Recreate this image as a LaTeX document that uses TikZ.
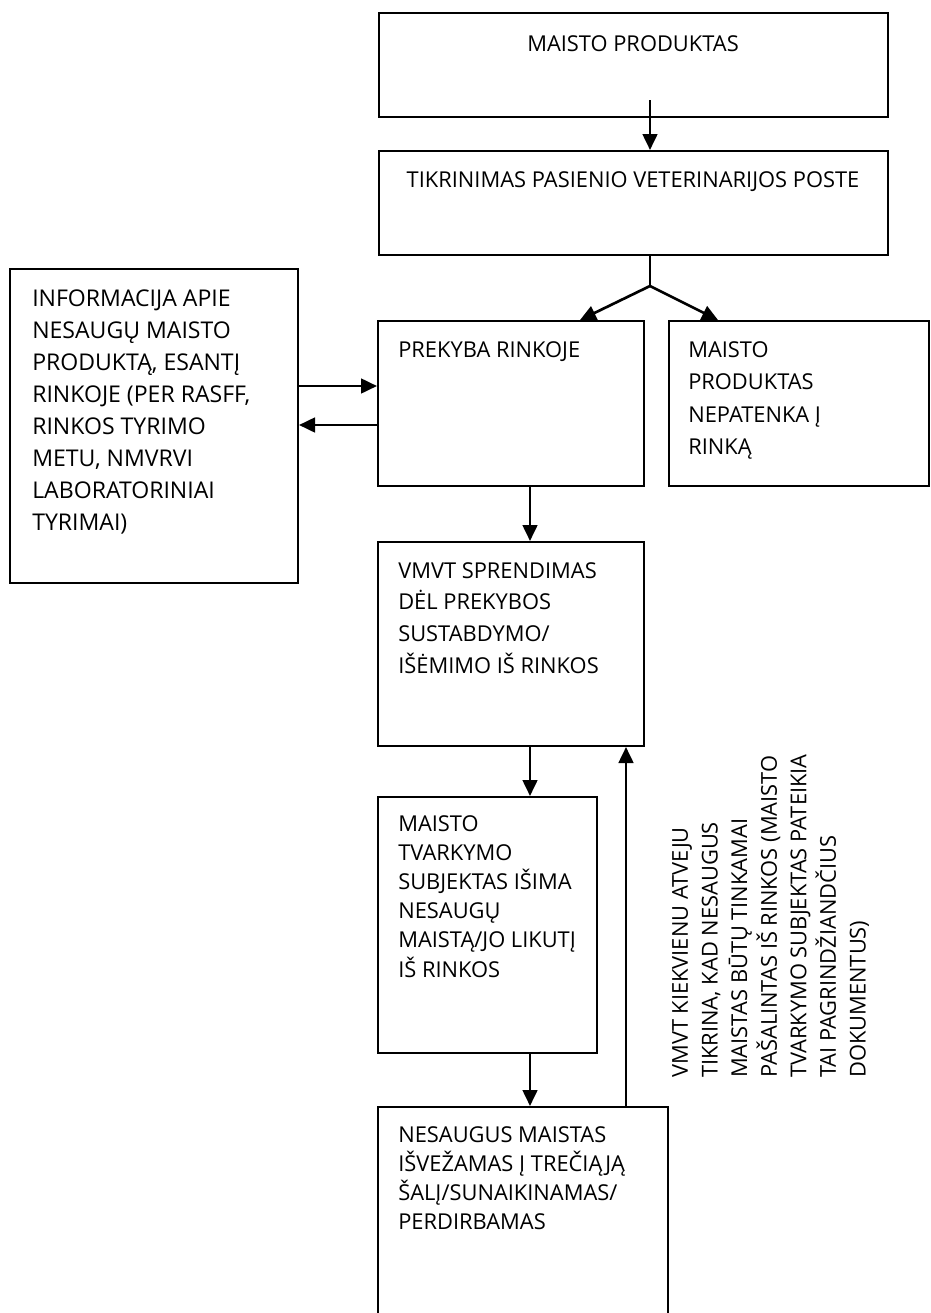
\documentclass[tikz,border=0pt]{standalone}
\usepackage{fontspec}
\setmainfont{Open Sans}
\usetikzlibrary{arrows.meta,fit}
\begin{document}
\begin{tikzpicture}[x=0.75pt,y=-0.75pt,
  box/.style={draw, line width=1.5pt, inner sep=0pt},
  arr/.style={line width=2pt, -{Triangle[length=12pt,width=11pt]}},
  txt/.style={inner sep=0pt, align=left, anchor=north west},
]
\useasboundingbox (0,0) rectangle (931,1313);
\clip (0,0) rectangle (931,1313);
% boxes
\node[box, fit={(379,13) (888,117)}] (b1) {};
\node[box, fit={(379,151) (888,255)}] (b2) {};
\node[box, fit={(10,269) (298,583)}] (bl) {};
\node[box, fit={(378,321) (644,486)}] (bp) {};
\node[box, fit={(669,321) (929,486)}] (bn) {};
\node[box, fit={(378,542) (644,746)}] (bv) {};
\node[box, fit={(378,797) (597,1053)}] (bt) {};
\node[box, fit={(378,1107) (668,1340)}] (bs) {};
% texts
\node[txt, anchor=north, font=\fontsize{16.4}{24}\selectfont] (t1) at (633,35) {MAISTO PRODUKTAS};
\node[txt, anchor=north, font=\fontsize{16.4}{24}\selectfont] (t2) at (633,171) {TIKRINIMAS PASIENIO VETERINARIJOS POSTE};
\node[txt, font=\fontsize{17.3}{24}\selectfont] (tl) at (32,290) {INFORMACIJA APIE\\NESAUGŲ MAISTO\\PRODUKTĄ, ESANTĮ\\RINKOJE (PER RASFF,\\RINKOS TYRIMO\\METU, NMVRVI\\LABORATORINIAI\\TYRIMAI)};
\node[txt, font=\fontsize{16.4}{24}\selectfont] (tp) at (398,341) {PREKYBA RINKOJE};
\node[txt, font=\fontsize{16.4}{24.4}\selectfont] (tn) at (688,341) {MAISTO\\PRODUKTAS\\NEPATENKA Į\\RINKĄ};
\node[txt, font=\fontsize{16.4}{23.8}\selectfont] (tv) at (398,562) {VMVT SPRENDIMAS\\DĖL PREKYBOS\\SUSTABDYMO/\\IŠĖMIMO IŠ RINKOS};
\node[txt, font=\fontsize{16.4}{21.9}\selectfont] (tt) at (398,815) {MAISTO\\TVARKYMO\\SUBJEKTAS IŠIMA\\NESAUGŲ\\MAISTĄ/JO LIKUTĮ\\IŠ RINKOS};
\node[txt, font=\fontsize{16.4}{21.75}\selectfont] (ts) at (398,1126) {NESAUGUS MAISTAS\\IŠVEŽAMAS Į TREČIĄJĄ\\ŠALĮ/SUNAIKINAMAS/\\PERDIRBAMAS};
\node[txt, rotate=90, font=\fontsize{16.4}{22.2}\selectfont] (tr) at (672,1078) {VMVT KIEKVIENU ATVEJU\\TIKRINA, KAD NESAUGUS\\MAISTAS BŪTŲ TINKAMAI\\PAŠALINTAS IŠ RINKOS (MAISTO\\TVARKYMO SUBJEKTAS PATEIKIA\\TAI PAGRINDŽIANDČIUS\\DOKUMENTUS)};
% connectors
\coordinate (a1) at (650,100);
\coordinate (j) at (650,286);
\coordinate (lp) at (580,0);
\coordinate (rp) at (718,0);
\coordinate (h1) at (0,386);
\coordinate (h2) at (0,425);
\coordinate (v1) at (530,0);
\coordinate (v2) at (626,0);
\draw[arr] (a1) -- (a1 |- b2.north);
\draw[line width=2pt] (j |- b2.south) -- (j);
\draw[arr] (j) -- (lp |- bp.north);
\draw[arr] (j) -- (rp |- bn.north);
\draw[arr] (bl.east |- h1) -- (bp.west |- h1);
\draw[arr] (bp.west |- h2) -- (bl.east |- h2);
\draw[arr] (v1 |- bp.south) -- (v1 |- bv.north);
\draw[arr] (v1 |- bv.south) -- (v1 |- bt.north);
\draw[arr] (v1 |- bt.south) -- (v1 |- bs.north);
\draw[arr] (v2 |- bs.north) -- (v2 |- bv.south);
\end{tikzpicture}
\end{document}
